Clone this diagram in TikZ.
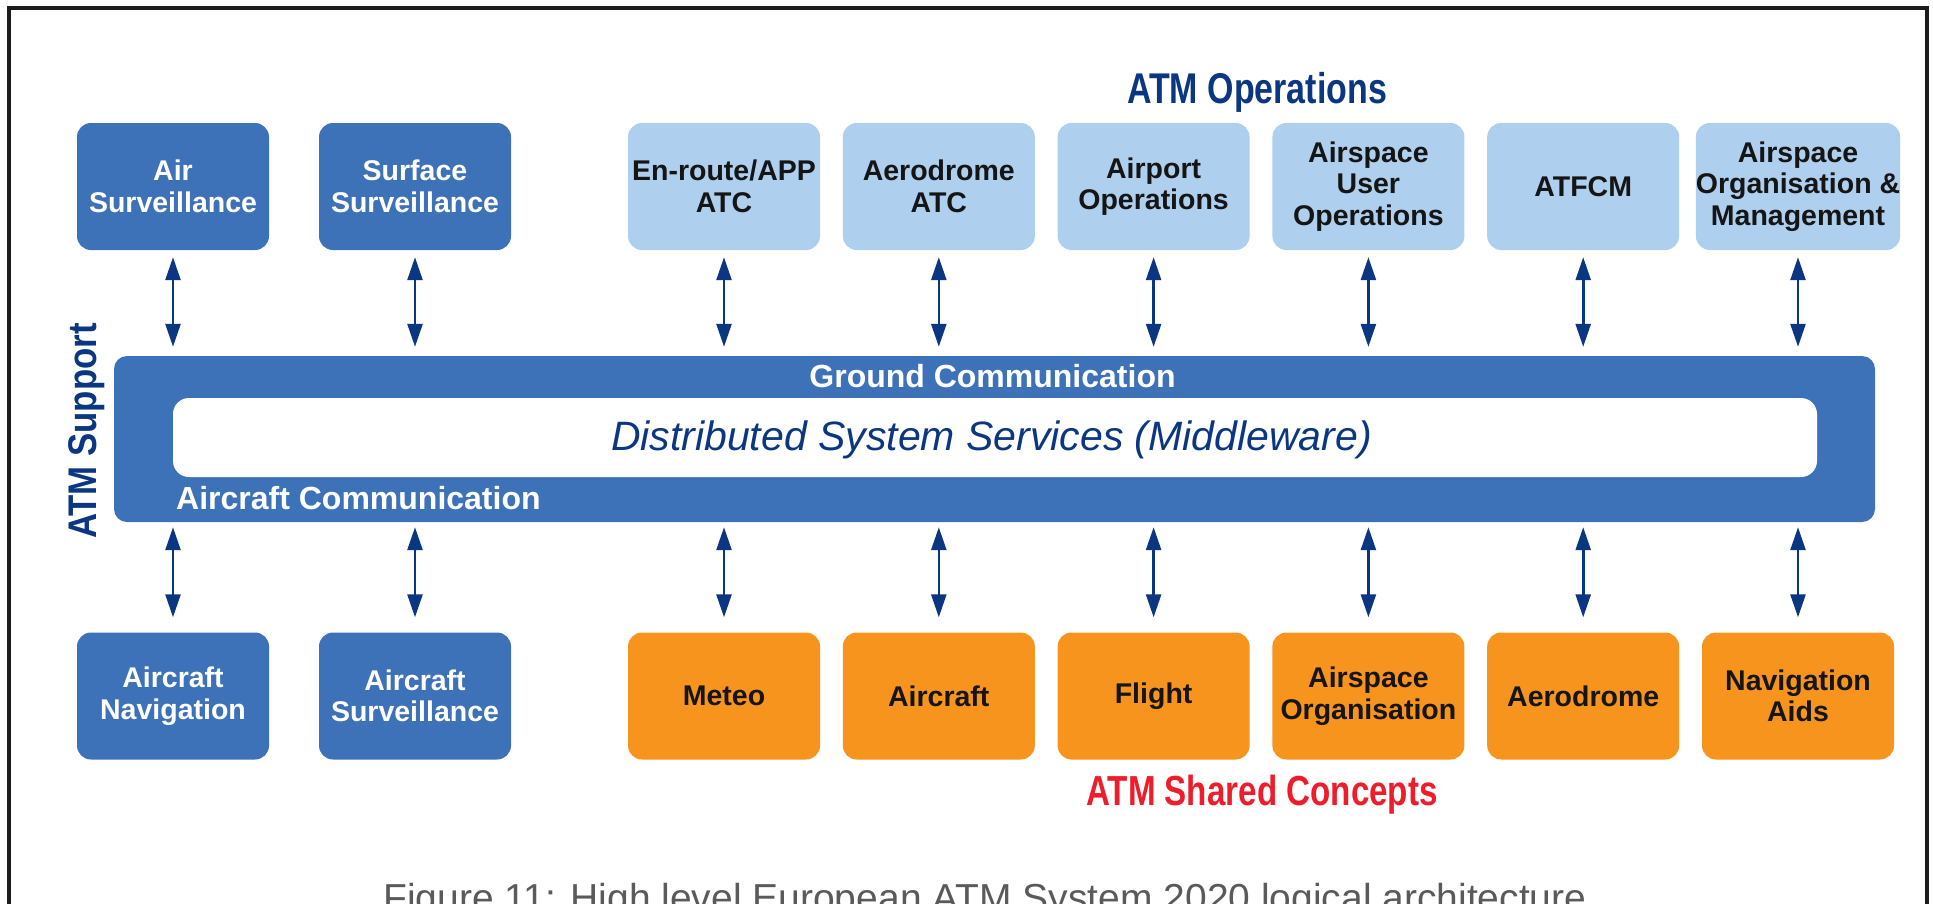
\documentclass[tikz,border=0pt]{standalone}
\usepackage{fontspec}
\setmainfont{Liberation Sans}
\newfontfamily\condfont[FakeStretch=0.79]{Liberation Sans}
\newfontfamily\suppfont[FakeStretch=0.87]{Liberation Sans}
\usetikzlibrary{arrows.meta}
\definecolor{dblue}{HTML}{3D72B8}
\definecolor{lblue}{HTML}{AECFEE}
\definecolor{orng}{HTML}{F7941E}
\definecolor{navy}{HTML}{0B3782}
\definecolor{txt}{HTML}{151515}
\definecolor{redt}{HTML}{EE1D2B}
\definecolor{frame}{HTML}{1C1C1C}
\definecolor{capt}{HTML}{5A5A5A}
\tikzset{
  box/.style={rounded corners=14pt, minimum width=192pt, minimum height=127pt, inner sep=0pt, align=center, font=\bfseries\fontsize{28.5}{31.5}\selectfont},
  dbox/.style={box, fill=dblue, text=white},
  lbox/.style={box, fill=lblue, text=txt},
  obox/.style={box, fill=orng, text=txt},
  link/.style={draw=navy, line width=2.6pt, {Triangle[length=23pt,width=15pt]}-{Triangle[length=23pt,width=15pt]}},
  uplink/.style={link, shorten <=7pt, shorten >=9pt},
  downlink/.style={link, shorten <=5pt, shorten >=15pt},
}
\begin{document}
\begin{tikzpicture}[x=1pt,y=-1pt]
\useasboundingbox (0,0) rectangle (1933,903);
\clip (0,0) rectangle (1933,903);
\fill[white] (0,0) rectangle (1933,903);
% frame
\draw[line width=4pt, draw=frame] (9,960) |- (1927,8) -- (1927,960);

% titles
\node[anchor=base, text=navy, font=\condfont\bfseries\fontsize{43}{48}\selectfont] (tops) at (1257,103) {ATM Operations};
\node[anchor=base, text=redt, font=\condfont\bfseries\fontsize{42}{48}\selectfont] (shared) at (1262,805) {ATM Shared Concepts};
\node[anchor=base, rotate=90, text=navy, font=\suppfont\bfseries\fontsize{40}{46}\selectfont] (supp) at (96,431) {ATM Support};

% top row
\node[dbox] (s1) at (173,186.5) {Air\\Surveillance};
\node[dbox] (s2) at (415,186.5) {Surface\\Surveillance};
\node[lbox] (s3) at (724,186.5) {En-route/APP\\ATC};
\node[lbox] (s4) at (938.8,186.5) {Aerodrome\\ATC};
\node[lbox] (s5) at (1153.6,186.5) {Airport\\Operations};
\node[lbox] (s6) at (1368.4,186.5) {Airspace\\User\\Operations};
\node[lbox] (s7) at (1583.2,186.5) {ATFCM};
\node[lbox] (s8) at (1798,186.5) {Airspace\\Organisation \&\\Management};

% bottom row
\node[dbox] (c1) at (173,696) {Aircraft\\Navigation};
\node[dbox] (c2) at (415,696) {Aircraft\\Surveillance};
\node[obox] (c3) at (724,696) {Meteo};
\node[obox] (c4) at (938.8,696) {Aircraft};
\node[obox] (c5) at (1153.6,696) {Flight};
\node[obox] (c6) at (1368.4,696) {Airspace\\Organisation};
\node[obox] (c7) at (1583.2,696) {Aerodrome};
\node[obox] (c8) at (1798,696) {Navigation\\Aids};

% middleware bar
\node[rounded corners=13pt, fill=dblue, minimum width=1761pt, minimum height=166pt, inner sep=0pt] (bar) at (994.5,439) {};
\node[rounded corners=16pt, fill=white, minimum width=1644pt, minimum height=79pt, inner sep=0pt] (mid) at (995,437.5) {};
\node[anchor=base, text=white, font=\bfseries\fontsize{32}{36}\selectfont] (ground) at (992.5,387) {Ground Communication};
\node[anchor=base west, inner sep=0pt, text=white, font=\bfseries\fontsize{32}{36}\selectfont] (air) at (176,509) {Aircraft Communication};
\node[anchor=base, text=navy, font=\itshape\fontsize{41}{46}\selectfont] (dss) at (991.5,450) {Distributed System Services (Middleware)};

% connectors
\foreach \i in {1,...,8}{
  \draw[uplink] (s\i.south) -- (s\i.south |- bar.north);
  \draw[downlink] (c\i.north |- bar.south) -- (c\i.north);
}

% caption
\node[anchor=base, text=capt, font=\fontsize{39}{44}\selectfont] (cap) at (985,911) {Figure 11: High level European ATM System 2020 logical architecture};
\end{tikzpicture}
\end{document}
